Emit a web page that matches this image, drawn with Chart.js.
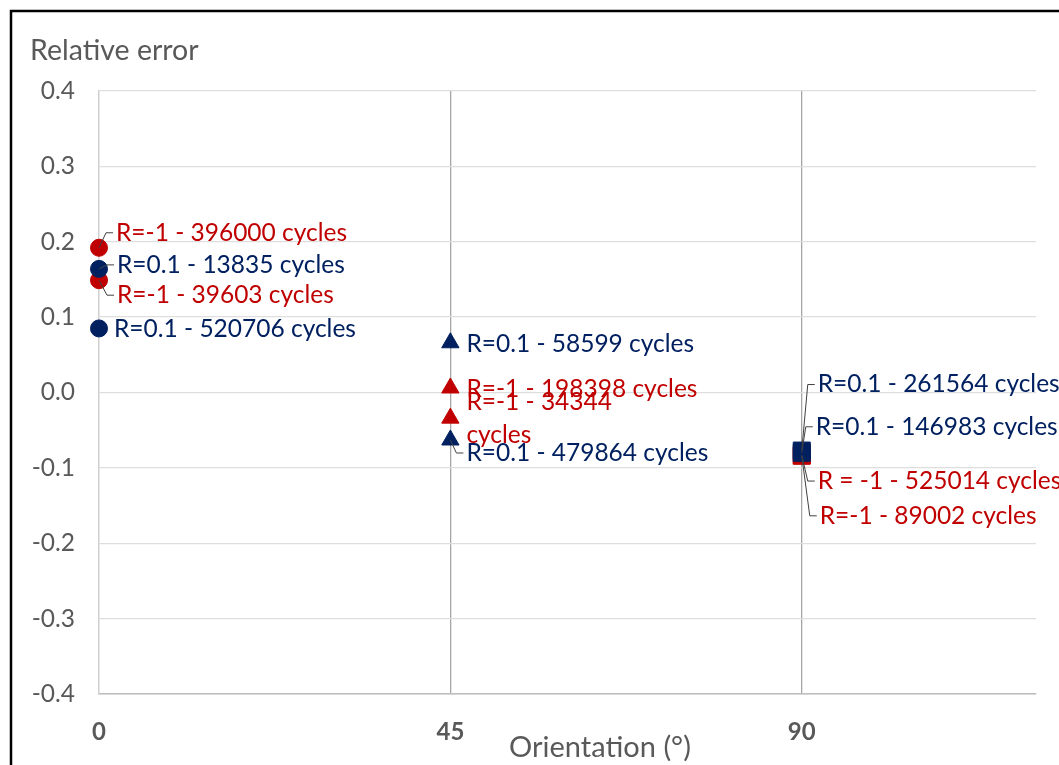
<!DOCTYPE html>
<html>
<head>
<meta charset="utf-8">
<title>Relative error vs orientation</title>
<script src="https://cdn.jsdelivr.net/npm/chart.js"></script>
<style>
  html, body { margin: 0; padding: 0; background: #fff; }
  #errChart { display: block; }
</style>
</head>
<body>

<canvas id="errChart" width="1059" height="765"></canvas>

<script>
    // Orientation ticks shown on the x axis
    const orientationTicks = [0, 45, 90];

    // R = 0.1 tests
    const r01Orientation = [0, 0, 45, 45, 90, 90];
    const r01Error = [0.164, 0.085, 0.066, -0.063, -0.077, -0.080];
    const r01Labels = [
        'R=0.1 - 13835 cycles',
        'R=0.1 - 520706 cycles',
        'R=0.1 - 58599 cycles',
        'R=0.1 - 479864 cycles',
        'R=0.1 - 261564 cycles',
        'R=0.1 - 146983 cycles'
    ];

    // R = -1 tests
    const rm1Orientation = [0, 0, 45, 45, 90, 90];
    const rm1Error = [0.192, 0.149, 0.006, -0.034, -0.083, -0.084];
    const rm1Labels = [
        'R=-1 - 396000 cycles',
        'R=-1 - 39603 cycles',
        'R=-1 - 198398 cycles',
        'R=-1 - 34344\ncycles',
        'R = -1 - 525014 cycles',
        'R=-1 - 89002 cycles'
    ];

    const NAVY = '#002060';
    const RED = '#C00000';
    const GREY_TEXT = '#595959';
    const FONT = 'Lato, "Open Sans", sans-serif';

    // marker shape / size depends on the orientation
    const shapeFor = x => x === 0 ? 'circle' : (x === 45 ? 'triangle' : 'rect');
    const radiusFor = x => x === 0 ? 8.5 : (x === 45 ? 10 : 12);

    // label offsets from the marker: [dx, dy, draw leader line]
    const labelPlacement = [
        [[20, -4, true], [17, 1, false], [18, 1, false], [18, 13, true], [18, -66, true], [16, -26, true]],
        [[19, -15, true], [20, 15, true], [18, 1, false], [18, 0, false], [18, 26, true], [20, 60, true]]
    ];

    function toPoints(xs, ys) {
        return xs.map((x, i) => ({ x: x, y: ys[i] }));
    }

    const pointLabels = {
        id: 'pointLabels',
        afterDatasetsDraw(chart) {
            const ctx = chart.ctx;
            ctx.save();
            // leader lines first, over the markers
            ctx.strokeStyle = '#404040';
            ctx.lineWidth = 1;
            chart.data.datasets.forEach((ds, di) => {
                const meta = chart.getDatasetMeta(di);
                meta.data.forEach((pt, i) => {
                    const p = labelPlacement[di][i];
                    if (!p[2]) return;
                    const tx = pt.x + p[0], ty = pt.y + p[1];
                    ctx.beginPath();
                    ctx.moveTo(pt.x, pt.y);
                    ctx.lineTo(tx - 12, ty);
                    ctx.lineTo(tx - 5, ty);
                    ctx.stroke();
                });
            });
            ctx.font = '24.5px ' + FONT;
            ctx.textAlign = 'left';
            ctx.textBaseline = 'middle';
            chart.data.datasets.forEach((ds, di) => {
                const meta = chart.getDatasetMeta(di);
                ctx.fillStyle = ds.borderColor;
                meta.data.forEach((pt, i) => {
                    const p = labelPlacement[di][i];
                    const lines = ds.pointText[i].split('\n');
                    const tx = pt.x + p[0], ty = pt.y + p[1];
                    lines.forEach((ln, k) => {
                        ctx.fillText(ln, tx - 2, ty + (k - (lines.length - 1) / 2) * 33);
                    });
                });
            });
            ctx.restore();
        }
    };

    const frameAndTitles = {
        id: 'frameAndTitles',
        beforeDraw(chart) {
            const ctx = chart.ctx;
            ctx.save();
            ctx.fillStyle = '#ffffff';
            ctx.fillRect(0, 0, chart.width, chart.height);
            ctx.restore();
        },
        afterDraw(chart) {
            const ctx = chart.ctx;
            ctx.save();
            // chart frame (only top and left edges are inside the canvas)
            ctx.strokeStyle = '#000000';
            ctx.lineWidth = 2.5;
            ctx.beginPath();
            ctx.moveTo(11, chart.height + 5);
            ctx.lineTo(11, 11);
            ctx.lineTo(chart.width + 5, 11);
            ctx.stroke();

            ctx.fillStyle = GREY_TEXT;
            ctx.textBaseline = 'alphabetic';
            ctx.textAlign = 'left';
            ctx.font = '28.5px ' + FONT;
            ctx.fillText('Relative error', 30, 60);
            ctx.textAlign = 'center';
            ctx.font = '29px ' + FONT;
            ctx.fillText('Orientation (°)', 600, 757);
            ctx.restore();
        }
    };

    const config = {
        type: 'scatter',
        data: {
            datasets: [
                {
                    label: 'R=0.1',
                    data: toPoints(r01Orientation, r01Error),
                    pointText: r01Labels,
                    backgroundColor: NAVY,
                    borderColor: NAVY,
                    borderWidth: 1,
                    clip: false,
                    pointStyle: r01Orientation.map(shapeFor),
                    pointRadius: r01Orientation.map(radiusFor),
                    pointHoverRadius: r01Orientation.map(radiusFor)
                },
                {
                    label: 'R=-1',
                    data: toPoints(rm1Orientation, rm1Error),
                    pointText: rm1Labels,
                    backgroundColor: RED,
                    borderColor: RED,
                    borderWidth: 1,
                    clip: false,
                    pointStyle: rm1Orientation.map(shapeFor),
                    pointRadius: rm1Orientation.map(radiusFor),
                    pointHoverRadius: rm1Orientation.map(radiusFor)
                }
            ]
        },
        options: {
            responsive: false,
            animation: false,
            devicePixelRatio: 1,
            layout: {
                padding: { top: 91, right: 23, bottom: 0, left: 0 }
            },
            scales: {
                x: {
                    type: 'linear',
                    min: 0,
                    max: 120,
                    afterBuildTicks: scale => {
                        scale.ticks = orientationTicks.map(v => ({ value: v }));
                    },
                    afterFit: scale => { scale.height = 71; },
                    ticks: {
                        padding: 24,
                        color: GREY_TEXT,
                        font: { family: FONT, size: 24, weight: 'bold' }
                    },
                    grid: {
                        drawTicks: false,
                        color: c => c.tick && c.tick.value === 0 ? 'rgba(0,0,0,0)' : '#a6a6a6',
                        lineWidth: 1.3
                    },
                    border: { display: true, color: '#bfbfbf', width: 1.5 }
                },
                y: {
                    min: -0.4,
                    max: 0.4,
                    afterFit: scale => { scale.width = 99; },
                    ticks: {
                        stepSize: 0.1,
                        padding: 24,
                        color: GREY_TEXT,
                        font: { family: FONT, size: 24.5 },
                        callback: v => (Math.abs(v) < 1e-9 ? 0 : v).toFixed(1)
                    },
                    grid: {
                        drawTicks: false,
                        color: c => c.tick && Math.abs(c.tick.value + 0.4) < 1e-9 ? '#bfbfbf' : '#dedede',
                        lineWidth: 1.3
                    },
                    border: { display: true, color: '#d0d0d0', width: 1.5 }
                }
            },
            plugins: {
                legend: { display: false },
                tooltip: { enabled: false }
            }
        },
        plugins: [frameAndTitles, pointLabels]
    };

    new Chart(document.getElementById('errChart').getContext('2d'), config);
</script>

</body>
</html>
